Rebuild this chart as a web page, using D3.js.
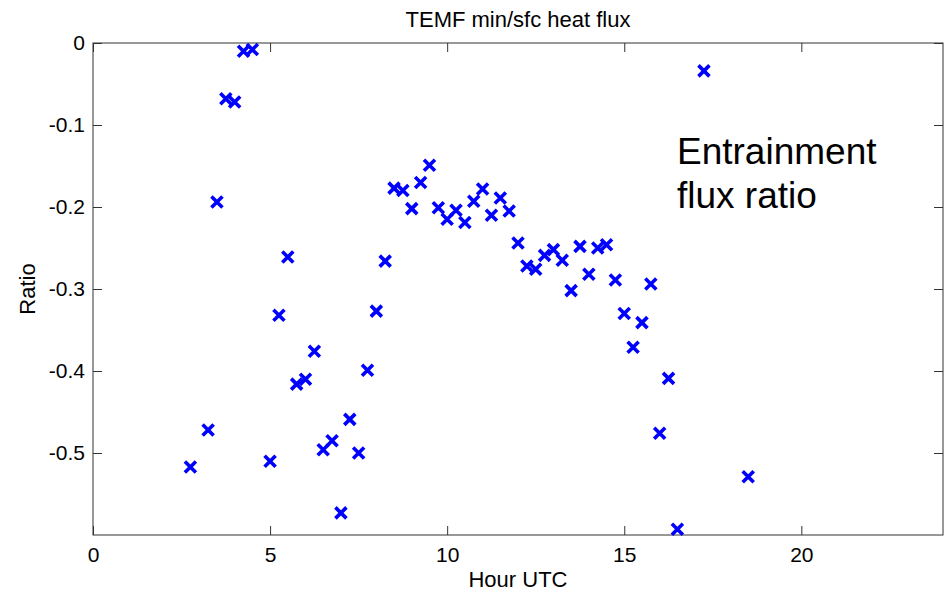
<!DOCTYPE html>
<html>
<head>
<meta charset="utf-8">
<script src="https://cdn.jsdelivr.net/npm/d3@7"></script>
<style>
    body { margin: 0; background: #fff; }
    text { font-family: "Liberation Sans", Arial, sans-serif; }
</style>
</head>
<body>
<svg id="vis"></svg>
<script>
// hour of day (UTC), 15 minute steps
const HOURS = [
    2.75, 3.25, 3.5, 3.75, 4.0, 4.25, 4.5,
    5.0, 5.25, 5.5, 5.75, 6.0, 6.25, 6.5, 6.75, 7.0, 7.25, 7.5, 7.75,
    8.0, 8.25, 8.5, 8.75, 9.0, 9.25, 9.5, 9.75, 10.0, 10.25, 10.5, 10.75,
    11.0, 11.25, 11.5, 11.75, 12.0, 12.25, 12.5, 12.75, 13.0, 13.25, 13.5,
    13.75, 14.0, 14.25, 14.5, 14.75, 15.0, 15.25, 15.5, 15.75, 16.0, 16.25,
    16.5, 17.25, 18.5
];

// entrainment flux ratio for each hour above
const RATIOS = [
    -0.517, -0.472, -0.194, -0.068, -0.072, -0.010, -0.008,
    -0.510, -0.332, -0.261, -0.416, -0.410, -0.376, -0.496, -0.485, -0.573, -0.459, -0.500, -0.399,
    -0.327, -0.266, -0.177, -0.180, -0.202, -0.170, -0.149, -0.201, -0.215, -0.204, -0.219, -0.193,
    -0.178, -0.210, -0.189, -0.205, -0.244, -0.272, -0.276, -0.259, -0.252, -0.265, -0.302,
    -0.248, -0.282, -0.250, -0.246, -0.289, -0.330, -0.371, -0.341, -0.294, -0.476, -0.409,
    -0.593, -0.034, -0.529
];

const X_TICKS = [0, 5, 10, 15, 20];
const Y_TICKS = [0, -0.1, -0.2, -0.3, -0.4, -0.5];
const X_DOMAIN = [0, 24];
const Y_DOMAIN = [-0.6, 0];

const WIDTH = 951;
const HEIGHT = 593;
const LEFT = 93, RIGHT = 943, TOP = 43, BOTTOM = 535;
const TICK = 9;

window.onload = function(){
    setupVis();
};

function setupVis(){
    let points = HOURS.map(function(h, i){ return { hour: h, ratio: RATIOS[i] }; });

    let xScale = d3.scaleLinear()
        .domain(X_DOMAIN)
        .range([LEFT, RIGHT]);

    let yScale = d3.scaleLinear()
        .domain(Y_DOMAIN)
        .range([BOTTOM, TOP]);

    let svg = d3.select("#vis")
        .attr("width", WIDTH)
        .attr("height", HEIGHT);

    // bottom axis with labels, ticks pointing in
    let xAxis = svg.append("g")
        .attr("transform", `translate(0,${BOTTOM})`)
        .call(d3.axisBottom(xScale)
            .tickValues(X_TICKS)
            .tickSizeInner(-TICK)
            .tickSizeOuter(0)
            .tickPadding(12)
            .tickFormat(d3.format("d")));

    // top mirror axis, ticks only
    let xAxisTop = svg.append("g")
        .attr("transform", `translate(0,${TOP})`)
        .call(d3.axisTop(xScale)
            .tickValues(X_TICKS)
            .tickSizeInner(-TICK)
            .tickSizeOuter(0)
            .tickFormat(""));

    let yAxis = svg.append("g")
        .attr("transform", `translate(${LEFT},0)`)
        .call(d3.axisLeft(yScale)
            .tickValues(Y_TICKS)
            .tickSizeInner(-TICK)
            .tickSizeOuter(0)
            .tickPadding(8)
            .tickFormat(function(d){ return d === 0 ? "0" : d.toFixed(1); }));

    let yAxisRight = svg.append("g")
        .attr("transform", `translate(${RIGHT},0)`)
        .call(d3.axisRight(yScale)
            .tickValues(Y_TICKS)
            .tickSizeInner(-TICK)
            .tickSizeOuter(0)
            .tickFormat(""));

    [xAxis, xAxisTop, yAxis, yAxisRight].forEach(function(g){
        g.select(".domain").remove();
        g.selectAll(".tick line").attr("stroke", "#333");
        g.selectAll(".tick text")
            .attr("font-family", "Liberation Sans, Arial, sans-serif")
            .attr("font-size", "21px")
            .attr("fill", "#000");
    });

    // axes box
    svg.append("rect")
        .attr("x", LEFT)
        .attr("y", TOP)
        .attr("width", RIGHT - LEFT)
        .attr("height", BOTTOM - TOP)
        .style("fill", "none")
        .style("stroke", "#333")
        .style("stroke-width", 1);

    // x markers
    svg.selectAll("path.marker")
        .data(points)
        .enter()
        .append("path")
        .attr("class", "marker")
        .attr("transform", function(d){
            return `translate(${xScale(d.hour)},${yScale(d.ratio)})`;
        })
        .attr("d", "M-5.5,-5.5L5.5,5.5M-5.5,5.5L5.5,-5.5")
        .style("fill", "none")
        .style("stroke", "#0000ff")
        .style("stroke-width", 3.6);

    svg.append("text")
        .text("TEMF min/sfc heat flux")
        .attr("x", (LEFT + RIGHT) / 2)
        .attr("y", 27)
        .attr("font-size", "22px")
        .style("text-anchor", "middle");

    svg.append("text")
        .text("Hour UTC")
        .attr("x", (LEFT + RIGHT) / 2)
        .attr("y", 587)
        .attr("font-size", "22px")
        .style("text-anchor", "middle");

    svg.append("text")
        .text("Ratio")
        .attr("transform", `translate(35,${(TOP + BOTTOM) / 2}) rotate(-90)`)
        .attr("font-size", "22px")
        .style("text-anchor", "middle");

    let note = svg.append("text")
        .attr("x", 677)
        .attr("y", 164)
        .attr("font-size", "37px");
    note.append("tspan").attr("x", 677).text("Entrainment");
    note.append("tspan").attr("x", 677).attr("dy", 44).text("flux ratio");
}
</script>
</body>
</html>
